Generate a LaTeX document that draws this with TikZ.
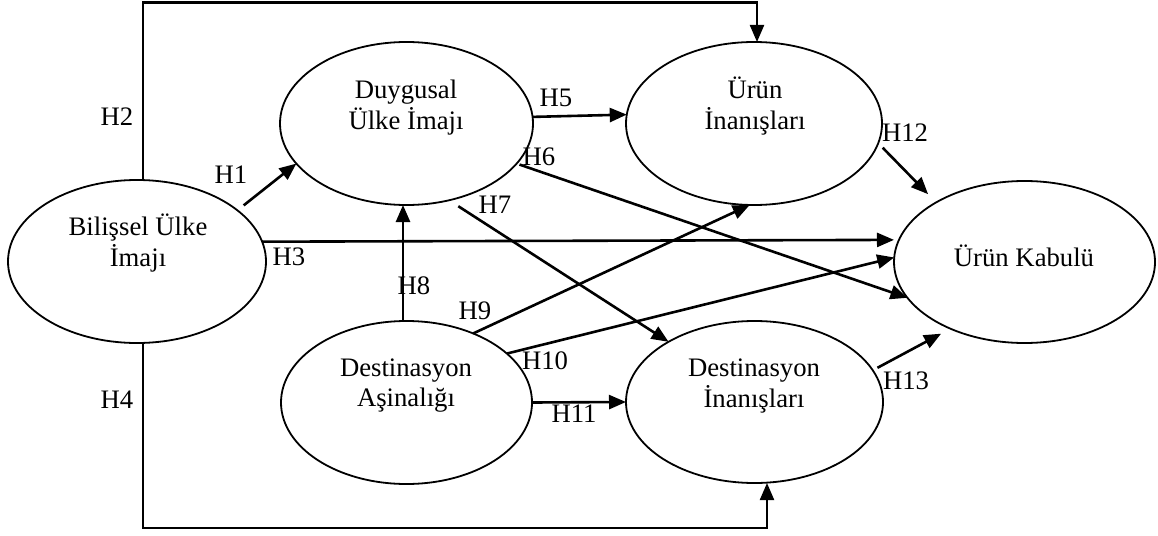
\documentclass[tikz,border=0pt]{standalone}
\usepackage{fontspec}
\setmainfont{Liberation Serif}
\usetikzlibrary{arrows.meta,shapes.geometric}
\begin{document}
\begin{tikzpicture}[x=1pt,y=-1pt,
  ell/.style={draw, ellipse, line width=1.8pt, inner sep=0pt, outer sep=0pt},
  txt/.style={font=\fontsize{26.7}{30.5}\selectfont, inner sep=0pt, anchor=base},
  hyp/.style={font=\fontsize{26.7}{30.5}\selectfont, inner sep=0pt},
  arr/.style={line width=2.6pt, -{Triangle[length=17pt,width=14pt]}},
  rail/.style={line width=2.2pt, -{Triangle[length=17pt,width=14pt]}}
]
\fill[white] (0,0) rectangle (1158,535);
\useasboundingbox (0,0) rectangle (1158,535);

% constructs
\node[ell, minimum width=258pt, minimum height=163pt] (bil)  at (137,261.5) {};
\node[ell, minimum width=253pt, minimum height=163pt] (duy)  at (406.5,123.5) {};
\node[ell, minimum width=256pt, minimum height=163pt] (uri)  at (754,123.5) {};
\node[ell, minimum width=261pt, minimum height=162pt] (kab)  at (1024.5,262) {};
\node[ell, minimum width=251pt, minimum height=163pt] (dasi) at (406.5,402.5) {};
\node[ell, minimum width=257pt, minimum height=162pt] (dinn) at (754.5,402) {};

% construct names
\node[txt] (bilT)  at (138,235.5) {\begin{tabular}[t]{@{}c@{}}Bilişsel Ülke\\İmajı\end{tabular}};
\node[txt] (duyT)  at (406,98) {\begin{tabular}[t]{@{}c@{}}Duygusal\\Ülke İmajı\end{tabular}};
\node[txt] (uriT)  at (755,98) {\begin{tabular}[t]{@{}c@{}}Ürün\\İnanışları\end{tabular}};
\node[txt] (kabT)  at (1024,266.5) {Ürün Kabulü};
\node[txt] (dasiT) at (406,376) {\begin{tabular}[t]{@{}c@{}}Destinasyon\\Aşinalığı\end{tabular}};
\node[txt] (dinnT) at (754,376) {\begin{tabular}[t]{@{}c@{}}Destinasyon\\İnanışları\end{tabular}};

% outer paths H2 and H4
\coordinate (railTop) at (0,2.5);
\coordinate (railBot) at (0,528);
\coordinate (bilN) at ([xshift=6pt]bil.north);
\coordinate (bilS) at ([xshift=6pt]bil.south);
\coordinate (uriN) at ([xshift=3pt]uri.north);
\coordinate (dinnS) at ([xshift=12.5pt]dinn.south);
\draw[rail] (bilN) |- (railTop -| uriN) -- (uriN);
\draw[rail] (bilS) |- (railBot -| dinnS) -- (dinnS);

% hypothesised paths
\draw[arr, shorten <=8pt] (bil.27.4) -- (duy.200.8);
\draw[arr, shorten >=5pt] (bil.9.3) -- (kab.170.5);
\draw[arr] (duy.3.4) -- (uri.176.6);
\draw[arr, shorten <=3pt] (duy.340.4) -- (kab.197.2);
\draw[arr, shorten <=11pt] (duy.299.6) -- (dinn.145.5);
\draw[arr] ([xshift=-3.5pt]dasi.north) -- ([xshift=-3.5pt]duy.south);
\draw[arr] (dasi.46.7) -- (uri.267);
\draw[arr] (dasi.26) -- (kab.178.3);
\draw[arr] (dasi.east) -- (dinn.west);
\draw[arr, shorten <=6.4pt, shorten >=11.5pt] (uri.351.4) -- (kab.146);
\draw[arr, shorten <=5.3pt, shorten >=10.6pt] (dinn.15.5) -- (kab.222.6);

% hypothesis labels
\node[hyp] (h1)  at (231,175) {H1};
\node[hyp] (h2)  at (117,117) {H2};
\node[hyp] (h3)  at (289,257) {H3};
\node[hyp] (h4)  at (117,400) {H4};
\node[hyp] (h5)  at (556,98)  {H5};
\node[hyp] (h6)  at (539,157) {H6};
\node[hyp] (h7)  at (495,205) {H7};
\node[hyp] (h8)  at (414,286) {H8};
\node[hyp] (h9)  at (475,311) {H9};
\node[hyp] (h10) at (545,361) {H10};
\node[hyp] (h11) at (574,414) {H11};
\node[hyp] (h12) at (905,133) {H12};
\node[hyp] (h13) at (906,381) {H13};
\end{tikzpicture}
\end{document}
